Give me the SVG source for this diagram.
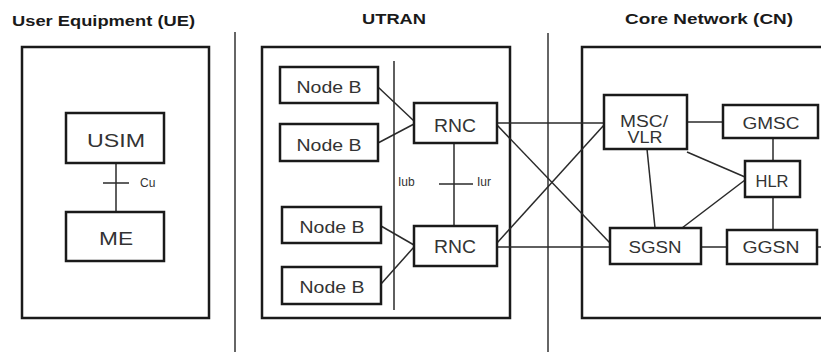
<svg xmlns="http://www.w3.org/2000/svg" width="821" height="352" viewBox="0 0 821 352">
<style>
.frame{fill:none;stroke:#1a1a1a;stroke-width:2.5}
.node{fill:#fff;stroke:#1a1a1a;stroke-width:2.5}
.ln{stroke:#2a2a2a;stroke-width:1.5;fill:none}
.div{stroke:#333;stroke-width:1.5}
.title{font-family:"Liberation Sans",Arial,sans-serif;font-weight:bold;font-size:15px;fill:#1a1a1a}
.lbl{font-family:"Liberation Sans",Arial,sans-serif;font-size:16px;fill:#333;text-anchor:middle}
.big{font-size:18px}
.small{font-family:"Liberation Sans",Arial,sans-serif;font-size:12px;fill:#333}
</style>
<rect width="821" height="352" fill="#fff"/>
<g id="titles">
<text class="title" x="12" y="26" textLength="183" lengthAdjust="spacingAndGlyphs">User Equipment (UE)</text>
<text class="title" x="362" y="24" textLength="64" lengthAdjust="spacingAndGlyphs">UTRAN</text>
<text class="title" x="625" y="24" textLength="168" lengthAdjust="spacingAndGlyphs">Core Network (CN)</text>
</g>
<g id="dividers">
<line class="div" x1="235" y1="32" x2="235" y2="352"/>
<line class="div" x1="548" y1="33" x2="548" y2="352"/>
</g>
<g id="domains">
<rect id="ue-domain" class="frame" x="22" y="47" width="187" height="271"/>
<rect id="utran-domain" class="frame" x="262" y="47" width="248" height="271"/>
<rect id="cn-domain" class="frame" x="582" y="47" width="260" height="271"/>
</g>
<g id="connectors">
<line class="ln" x1="116" y1="163" x2="116" y2="212"/>
<line class="ln" x1="103" y1="183" x2="129" y2="183"/>
<line class="ln" x1="378" y1="87" x2="414" y2="121"/>
<line class="ln" x1="378" y1="143" x2="414" y2="124"/>
<line class="ln" x1="394" y1="61" x2="394" y2="310"/>
<line class="ln" x1="454" y1="143" x2="454" y2="226"/>
<line class="ln" x1="439" y1="184" x2="473" y2="184"/>
<line class="ln" x1="381" y1="226" x2="414" y2="245"/>
<line class="ln" x1="381" y1="284" x2="414" y2="247"/>
<line class="ln" x1="497" y1="123" x2="604" y2="123"/>
<line class="ln" x1="497" y1="125" x2="610" y2="243"/>
<line class="ln" x1="497" y1="243" x2="604" y2="125"/>
<line class="ln" x1="497" y1="247" x2="610" y2="247"/>
<line class="ln" x1="687" y1="122" x2="723" y2="122"/>
<line class="ln" x1="647" y1="149" x2="655" y2="228"/>
<line class="ln" x1="687" y1="152" x2="745" y2="177"/>
<line class="ln" x1="682" y1="228" x2="745" y2="180"/>
<line class="ln" x1="773" y1="138" x2="773" y2="161"/>
<line class="ln" x1="773" y1="197" x2="773" y2="230"/>
<line class="ln" x1="701" y1="247" x2="727" y2="247"/>
<line class="ln" x1="817" y1="247" x2="821" y2="247"/>
</g>
<g id="usim"><rect class="node" x="66" y="113" width="98" height="50"/><text class="lbl big" x="116" y="147" textLength="58" lengthAdjust="spacingAndGlyphs">USIM</text></g>
<g id="me"><rect class="node" x="66" y="212" width="98" height="49"/><text class="lbl big" x="116" y="245" textLength="34" lengthAdjust="spacingAndGlyphs">ME</text></g>
<g id="cu-label"><text class="small" x="140" y="187">Cu</text></g>
<g id="iub-label"><text class="small" x="398" y="186">Iub</text></g>
<g id="iur-label"><text class="small" x="477" y="186">Iur</text></g>
<g id="nodeb1"><rect class="node" x="280" y="67" width="98" height="36"/><text class="lbl" x="329" y="93" textLength="65" lengthAdjust="spacingAndGlyphs">Node B</text></g>
<g id="nodeb2"><rect class="node" x="280" y="124" width="98" height="37"/><text class="lbl" x="329" y="151" textLength="65" lengthAdjust="spacingAndGlyphs">Node B</text></g>
<g id="nodeb3"><rect class="node" x="282" y="207" width="99" height="36"/><text class="lbl" x="332" y="233" textLength="65" lengthAdjust="spacingAndGlyphs">Node B</text></g>
<g id="nodeb4"><rect class="node" x="282" y="267" width="99" height="37"/><text class="lbl" x="332" y="293" textLength="65" lengthAdjust="spacingAndGlyphs">Node B</text></g>
<g id="rnc1"><rect class="node" x="414" y="103" width="83" height="40"/><text class="lbl big" x="455" y="132" textLength="42" lengthAdjust="spacingAndGlyphs">RNC</text></g>
<g id="rnc2"><rect class="node" x="414" y="226" width="83" height="40"/><text class="lbl big" x="455" y="253" textLength="42" lengthAdjust="spacingAndGlyphs">RNC</text></g>
<g id="msc-vlr"><rect class="node" x="604" y="95" width="83" height="54"/><text class="lbl" x="644" y="127" textLength="48" lengthAdjust="spacingAndGlyphs">MSC/</text><text class="lbl" x="645" y="143" textLength="35" lengthAdjust="spacingAndGlyphs">VLR</text></g>
<g id="gmsc"><rect class="node" x="723" y="105" width="95" height="33"/><text class="lbl" x="771" y="129" textLength="57" lengthAdjust="spacingAndGlyphs">GMSC</text></g>
<g id="hlr"><rect class="node" x="745" y="161" width="55" height="36"/><text class="lbl" x="772" y="187" textLength="33" lengthAdjust="spacingAndGlyphs">HLR</text></g>
<g id="sgsn"><rect class="node" x="610" y="228" width="91" height="36"/><text class="lbl" x="655" y="253" textLength="53" lengthAdjust="spacingAndGlyphs">SGSN</text></g>
<g id="ggsn"><rect class="node" x="727" y="230" width="90" height="34"/><text class="lbl" x="771" y="253" textLength="57" lengthAdjust="spacingAndGlyphs">GGSN</text></g>
</svg>
